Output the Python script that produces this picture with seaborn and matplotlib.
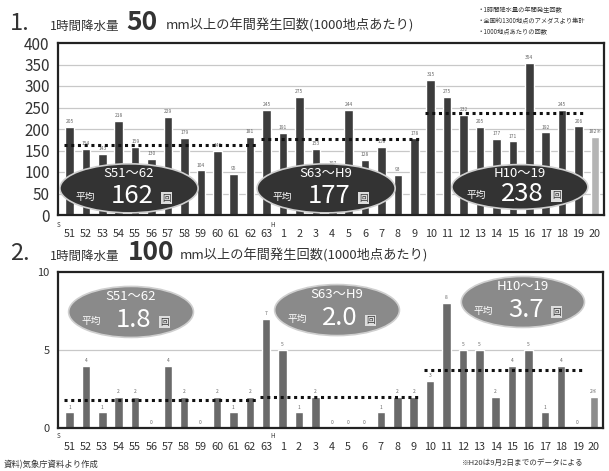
import numpy as np
import pandas as pd
import seaborn as sns
import matplotlib.pyplot as plt
from matplotlib.patches import Ellipse

# year labels (Showa 51-63, Heisei 1-20)
years = ['51', '52', '53', '54', '55', '56', '57', '58', '59', '60', '61', '62', '63',
         '1', '2', '3', '4', '5', '6', '7', '8', '9', '10', '11', '12', '13', '14',
         '15', '16', '17', '18', '19', '20']

# chart 1: >= 50mm/h occurrences per 1000 stations
count50 = [205, 154, 143, 218, 159, 130, 229, 179, 104, 149, 95, 181, 245,
           191, 275, 153, 107, 244, 128, 158, 93, 178, 315, 275, 232, 205, 177,
           171, 354, 192, 245, 206, 182]
labels50 = [str(v) for v in count50[:-1]] + ['182※']

# chart 2: >= 100mm/h occurrences per 1000 stations
count100 = [1, 4, 1, 2, 2, 0, 4, 2, 0, 2, 1, 2, 7,
            5, 1, 2, 0, 0, 0, 1, 2, 2, 3, 8, 5, 5, 2,
            4, 5, 1, 4, 0, 2]
labels100 = [str(v) for v in count100[:-1]] + ['2※']

# period averages: (first bar, last bar, value, title)
periods50 = [(0, 11, 162, 'S51～62'), (12, 21, 177, 'S63～H9'), (22, 31, 238, 'H10～19')]
periods100 = [(0, 11, 1.8, 'S51～62'), (12, 21, 2.0, 'S63～H9'), (22, 31, 3.7, 'H10～19')]

sns.set_style('white')
plt.rcParams['font.family'] = ['Noto Sans CJK JP', 'DejaVu Sans']

W, H = 609, 471
fig = plt.figure(figsize=(W / 100, H / 100), dpi=100)


def px_axes(x0, y0, x1, y1):
    return fig.add_axes([x0 / W, 1 - y1 / H, (x1 - x0) / W, (y1 - y0) / H])


def draw_panel(ax, values, labels, colors, periods, ymax, yticks, grid, ell_color, ell_pos, ytick_size, avg_fmt):
    df = pd.DataFrame({'year': [str(i) for i in range(len(values))], 'value': values})
    sns.barplot(data=df, x='year', y='value', hue='year', palette=colors, legend=False,
                width=0.52, ax=ax, saturation=1)
    ax.set_xlim(-0.7, len(values) - 0.45)
    ax.set_ylim(0, ymax)
    ax.set_yticks(yticks)
    ax.set_yticklabels([str(t) for t in yticks], fontsize=ytick_size, color='#333333')
    ax.set_xticks(range(len(values)))
    ax.set_xticklabels(years, fontsize=7.8, color='#333333')
    ax.tick_params(axis='x', pad=10, length=0)
    ax.tick_params(axis='y', pad=6, length=0)
    ax.set_xlabel('')
    ax.set_ylabel('')
    for g in grid:
        ax.axhline(g, color='#c8c8c8', lw=0.9, zorder=0)
    for c, lab in zip(ax.containers, [[l] for l in labels]):
        ax.bar_label(c, labels=lab, fontsize=3.5, color='#666666', padding=2)
    for s in ax.spines.values():
        s.set_linewidth(1.6)
        s.set_color('#222222')
    for (a, b, v, name), (cx, cy, w, h) in zip(periods, ell_pos):
        ax.plot([a - 0.35, b + 0.35], [v, v], ls=(0, (1, 1.2)), color='#111111', lw=2.2, zorder=3)
        ax.add_patch(Ellipse((cx, cy), w, h, transform=ax.transAxes, facecolor=ell_color,
                             edgecolor='#cfcfcf', lw=1.2, zorder=5))
        ax.text(cx, cy + h * 0.3, name, transform=ax.transAxes, ha='center', va='center',
                fontsize=9.5, color='white', zorder=6)
        ax.text(cx + 0.005, cy - h * 0.16, avg_fmt.format(v), transform=ax.transAxes, ha='center',
                va='center', fontsize=18.5, color='white', zorder=6)
        ax.text(cx - w * 0.32, cy - h * 0.17, '平均', transform=ax.transAxes, ha='center',
                va='center', fontsize=7, color='white', zorder=6)
        ax.text(cx + w * 0.27, cy - h * 0.2, '回', transform=ax.transAxes, ha='center',
                va='center', fontsize=6, color='#333333', zorder=6,
                bbox=dict(boxstyle='square,pad=0.15', fc='#dddddd', ec='none'))


# --- chart 1 ---
ax1 = px_axes(58, 43, 604, 215)
col1 = ['#3c3c3c'] * (len(count50) - 1) + ['#b4b4b4']
draw_panel(ax1, count50, labels50, col1, periods50, 400, list(range(0, 401, 50)),
           list(range(50, 400, 50)), '#333333',
           [(0.130, 0.155, 0.253, 0.285), (0.491, 0.155, 0.253, 0.285), (0.846, 0.163, 0.249, 0.26)],
           11, '{:d}')

# --- chart 2 ---
ax2 = px_axes(58, 272, 603, 428)
col2 = ['#6a6a6a'] * (len(count100) - 1) + ['#8c8c8c']
draw_panel(ax2, count100, labels100, col2, periods100, 10, [0, 5, 10], [5], '#8a8a8a',
           [(0.134, 0.744, 0.229, 0.327), (0.512, 0.756, 0.229, 0.327), (0.853, 0.808, 0.226, 0.327)],
           8, '{:.1f}')

# era markers on the x axis
for yy in (227, 438):
    fig.text(57 / W, 1 - yy / H, 'S', fontsize=4.5, color='#333333')
    fig.text(270 / W, 1 - yy / H, 'H', fontsize=4.5, color='#333333')

# titles
for yy, num, big, bx, rest_x in [(30, '1.', '50', 126, 166), (260, '2.', '100', 128, 180)]:
    fig.text(10 / W, 1 - yy / H, num, fontsize=17, color='#333333', va='baseline')
    fig.text(50 / W, 1 - yy / H, '1時間降水量', fontsize=9, color='#333333', va='baseline')
    fig.text(bx / W, 1 - yy / H, big, fontsize=19, color='#333333', va='baseline', weight='bold')
    fig.text(rest_x / W, 1 - yy / H, 'mm以上の年間発生回数(1000地点あたり)', fontsize=9.5,
             color='#333333', va='baseline')

notes = ['・1時間降水量の年間発生回数', '・全国約1300地点のアメダスより集計', '・1000地点あたりの回数']
for i, n in enumerate(notes):
    fig.text(478 / W, 1 - (10 + i * 11) / H, n, fontsize=4.5, color='#333333', va='center')

fig.text(4 / W, 1 - 465 / H, '資料)気象庁資料より作成', fontsize=6, color='#333333', va='center')
fig.text(462 / W, 1 - 463 / H, '※H20は9月2日までのデータによる', fontsize=5.5, color='#333333', va='center')

fig.savefig('out.png', dpi=100)
